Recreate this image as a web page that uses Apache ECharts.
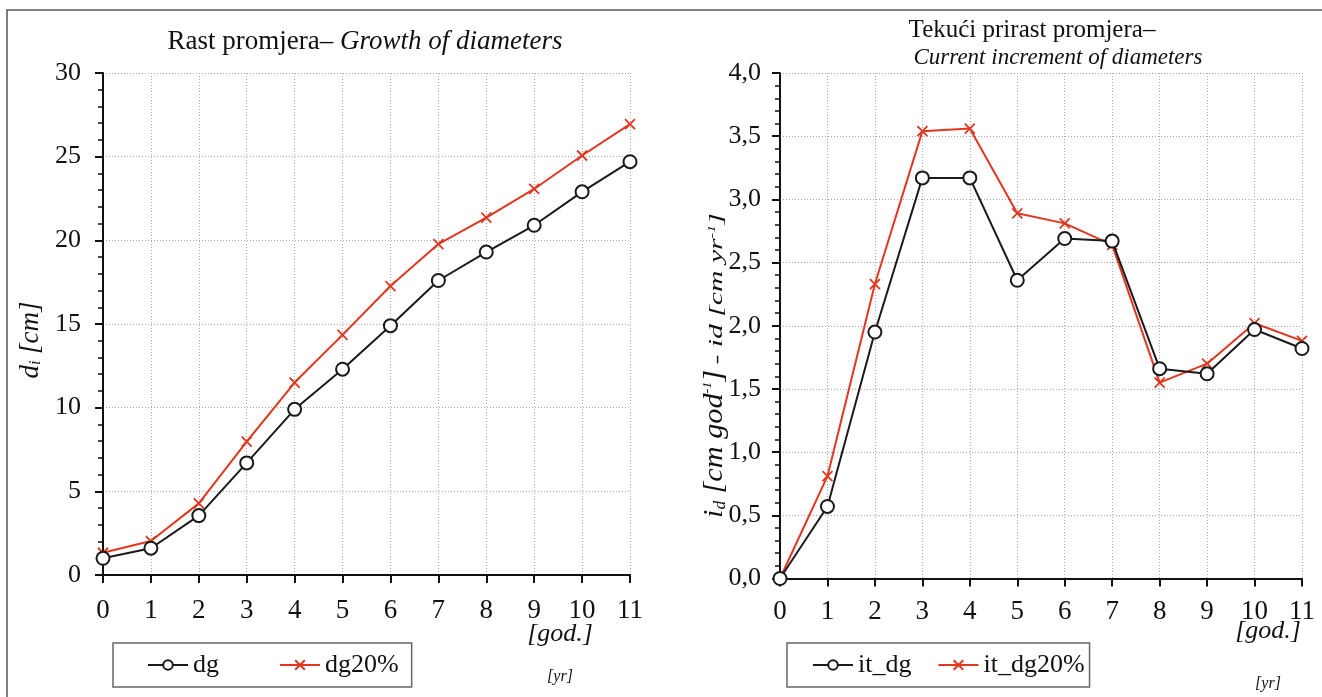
<!DOCTYPE html>
<html><head><meta charset="utf-8">
<script src="https://cdn.jsdelivr.net/npm/echarts@6/dist/echarts.min.js"></script>
<style>html,body{margin:0;padding:0;background:#fff}#c{width:1322px;height:697px}</style>
</head><body><div id="c"></div>
<script>
const years = [0,1,2,3,4,5,6,7,8,9,10,11];
const dg = [1.0,1.6,3.55,6.7,9.9,12.3,14.9,17.6,19.3,20.9,22.9,24.7];
const dg20 = [1.33,2.03,4.28,7.97,11.5,14.35,17.27,19.78,21.36,23.07,25.07,26.94];
const it_dg = [0,0.57,1.95,3.17,3.17,2.36,2.69,2.67,1.66,1.62,1.97,1.82];
const it_dg20 = [0,0.81,2.33,3.54,3.56,2.89,2.81,2.64,1.55,1.70,2.02,1.88];

const FONT = "'Liberation Serif','DejaVu Serif',serif";
const RED = '#e2361f', BLK = '#1a1a1a';
const XSYM = 'path://M0,0L10,10M10,0L0,10';
const pairs = a => a.map((v,i)=>[years[i], v]);

const chart = echarts.init(document.getElementById('c'));
function xAxisCfg(gi, margin){
  return {type:'value', gridIndex:gi, min:0, max:11, interval:1,
    axisLine:{show:true, onZero:false, lineStyle:{color:'#111', width:2}},
    axisTick:{show:true, length:8, lineStyle:{color:'#111', width:2}},
    axisLabel:{margin:margin, color:'#111', fontSize:27, fontFamily:FONT},
    splitLine:{show:true, lineStyle:{color:'#a8a8a8', type:[1,2], width:1}}};
}
function yAxisCfg(gi, max, interval, fmt, margin){
  return {type:'value', gridIndex:gi, min:0, max:max, interval:interval,
    axisLine:{show:true, lineStyle:{color:'#111', width:2}},
    axisTick:{show:true, length:8, lineStyle:{color:'#111', width:2}},
    minorTick:{show:true, splitNumber:5, length:5, lineStyle:{color:'#111', width:1.5}},
    axisLabel:{margin:margin, color:'#111', fontSize:26, fontFamily:FONT, formatter:fmt},
    splitLine:{show:true, lineStyle:{color:'#a8a8a8', type:[1,2], width:1}}};
}
function ser(name, data, gi, color, sym){
  return {name:name, type:'line', xAxisIndex:gi, yAxisIndex:gi, data:pairs(data),
    symbol: sym==='o' ? 'emptyCircle' : XSYM,
    symbolSize: sym==='o' ? 13 : 10,
    lineStyle:{color:color, width:2},
    itemStyle: sym==='o' ? {color:color, borderColor:color, borderWidth:1.5}
                         : {color:color, borderColor:color, borderWidth:1.8},
    animation:false, z:sym==='o'?3:2};
}
const legendText = {fontSize:26, fontFamily:FONT, color:'#111'};
const T = '#111';
chart.setOption({
  backgroundColor:'#fff',
  animation:false,
  grid:[{left:103, top:73, width:527, height:502},
        {left:780, top:73, width:522, height:505.5}],
  xAxis:[xAxisCfg(0, 22), xAxisCfg(1, 20)],
  yAxis:[yAxisCfg(0, 30, 5, v=>String(v), 22),
         yAxisCfg(1, 4, 0.5, v=>v.toFixed(1).replace('.',','), 19)],
  legend:[
    {data:['dg','dg20%'], left:113, top:643, orient:'horizontal',
     itemWidth:40, itemHeight:12, itemGap:60, padding:[9,13,9,34],
     borderColor:'#666', borderWidth:1.5, textStyle:legendText, selectedMode:false},
    {data:['it_dg','it_dg20%'], left:787, top:643, orient:'horizontal',
     itemWidth:40, itemHeight:12, itemGap:26, padding:[9,5,9,25],
     borderColor:'#666', borderWidth:1.5, textStyle:legendText, selectedMode:false}
  ],
  series:[ser('dg20%', dg20, 0, RED, 'x'), ser('dg', dg, 0, BLK, 'o'),
          ser('it_dg20%', it_dg20, 1, RED, 'x'), ser('it_dg', it_dg, 1, BLK, 'o')],
  graphic:[
    {type:'rect', shape:{x:7, y:10, width:1330, height:700}, style:{fill:'none', stroke:'#555', lineWidth:1.5}, silent:true},
    {type:'text', x:365, y:42, style:{text:'{n|Rast promjera– }{i|Growth of diameters}', align:'center', verticalAlign:'middle',
      rich:{n:{fontSize:27, fontFamily:FONT, fill:T}, i:{fontSize:27, fontFamily:FONT, fontStyle:'italic', fill:T}}}},
    {type:'text', x:1032, y:30, style:{text:'Tekući prirast promjera–', align:'center', verticalAlign:'middle', fontSize:25, fontFamily:FONT, fill:T}},
    {type:'text', x:1058, y:58, style:{text:'Current increment of diameters', align:'center', verticalAlign:'middle', fontSize:23, fontFamily:FONT, fontStyle:'italic', fill:T}},
    {type:'text', x:31, y:340, rotation:Math.PI/2, style:{text:'{a|d}{s|i}{a| [cm]}', align:'center', verticalAlign:'middle',
      rich:{a:{fontSize:27, fontFamily:FONT, fontStyle:'italic', fill:T}, s:{fontSize:16, fontFamily:FONT, fontStyle:'italic', fill:T, padding:[10,0,0,0]}}}},
    {type:'text', x:729, y:518, rotation:Math.PI/2, scaleX:1.08, style:{text:'{a|i}{s|d}{a| [cm god}{p|-1}{a|]}', align:'left', verticalAlign:'bottom',
      rich:{a:{fontSize:28, fontFamily:FONT, fontStyle:'italic', fill:T},
            s:{fontSize:16, fontFamily:FONT, fontStyle:'italic', fill:T, padding:[12,0,0,0]},
            p:{fontSize:13, fontFamily:FONT, fontStyle:'italic', fill:T, padding:[0,0,14,0]}}}},
    {type:'text', x:727, y:372, rotation:Math.PI/2, scaleX:1.65, style:{text:'{b| - id [cm yr}{q|-1}{b|]}', align:'left', verticalAlign:'bottom',
      rich:{b:{fontSize:18, fontFamily:FONT, fontStyle:'italic', fill:T},
            q:{fontSize:10, fontFamily:FONT, fontStyle:'italic', fill:T, padding:[0,0,10,0]}}}},
    {type:'text', x:560, y:634, style:{text:'[god.]', align:'center', verticalAlign:'middle', fontSize:26, fontFamily:FONT, fontStyle:'italic', fill:T}},
    {type:'text', x:560, y:677, style:{text:'[yr]', align:'center', verticalAlign:'middle', fontSize:16, fontFamily:FONT, fontStyle:'italic', fill:T}},
    {type:'text', x:1268, y:631, style:{text:'[god.]', align:'center', verticalAlign:'middle', fontSize:26, fontFamily:FONT, fontStyle:'italic', fill:T}},
    {type:'text', x:1268, y:684, style:{text:'[yr]', align:'center', verticalAlign:'middle', fontSize:16, fontFamily:FONT, fontStyle:'italic', fill:T}}
  ]
});
</script></body></html>
